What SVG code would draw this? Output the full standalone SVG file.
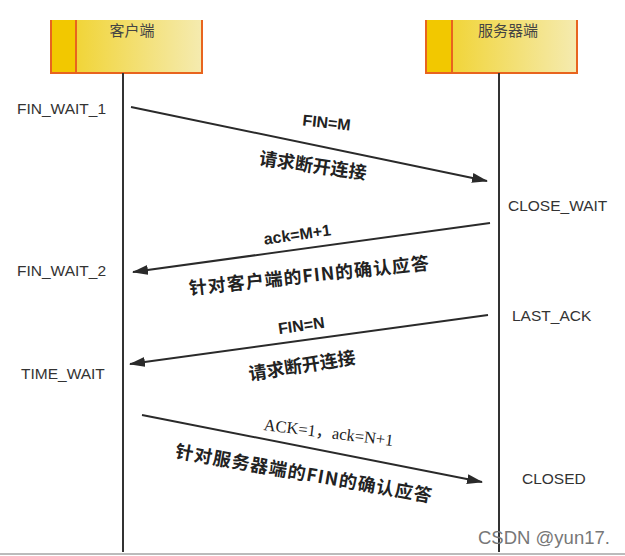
<svg xmlns="http://www.w3.org/2000/svg" width="625" height="556" viewBox="0 0 625 556">
<style>
.state{font-family:"Liberation Sans",Arial,sans-serif;font-size:15.5px;fill:#333}
.hdr{font-family:"Noto Sans CJK SC","Liberation Sans",sans-serif;font-size:15px;fill:#444}
.bl{font-family:"Liberation Sans",Arial,sans-serif;font-size:16px;font-weight:bold;fill:#222}
.cn{font-family:"Noto Sans CJK SC","Liberation Sans",sans-serif;font-size:18px;font-weight:bold;fill:#222}
.sf{font-family:"Liberation Serif","Noto Sans CJK SC",serif;font-size:16.5px;fill:#222}
.life{stroke:#333;stroke-width:2;fill:none}
.msg{stroke:#2a2a2a;stroke-width:2;fill:none}
.bord{stroke:#e8641e;stroke-width:2;fill:none}
</style>
<defs>
<linearGradient id="g" x1="0" y1="0" x2="1" y2="0">
<stop offset="0" stop-color="#f0d020"/>
<stop offset="1" stop-color="#f5ebb0"/>
</linearGradient>
<marker id="ah" viewBox="0 0 16 10" refX="15" refY="5" markerWidth="16" markerHeight="10" markerUnits="userSpaceOnUse" orient="auto">
<path d="M0,0 L16,5 L0,10 Z" fill="#2a2a2a"/>
</marker>
</defs>
<rect x="0" y="0" width="625" height="556" fill="#fff"/>
<line x1="0" y1="554" x2="625" y2="554" stroke="#bbb" stroke-width="2"/>
<g id="client">
<rect x="51" y="20" width="151" height="53" fill="url(#g)"/>
<rect x="51" y="20" width="25" height="53" fill="#f2c800"/>
<path class="bord" d="M51,20 V73 H202 V20 M76,20 V73"/>
<text class="hdr" x="132" y="36" text-anchor="middle">客户端</text>
<line class="life" x1="123" y1="73" x2="123" y2="552"/>
</g>
<g id="server">
<rect x="426" y="20" width="151" height="53" fill="url(#g)"/>
<rect x="426" y="20" width="26" height="53" fill="#f2c800"/>
<path class="bord" d="M426,20 V73 H577 V20 M452,20 V73"/>
<text class="hdr" x="508" y="36" text-anchor="middle">服务器端</text>
<line class="life" x1="499" y1="73" x2="499" y2="552"/>
</g>
<g id="states">
<text class="state" x="17" y="114">FIN_WAIT_1</text>
<text class="state" x="17" y="276">FIN_WAIT_2</text>
<text class="state" x="21" y="379">TIME_WAIT</text>
<text class="state" x="508" y="211">CLOSE_WAIT</text>
<text class="state" x="512" y="321">LAST_ACK</text>
<text class="state" x="522" y="484">CLOSED</text>
</g>
<g id="connectors">
<line class="msg" x1="131" y1="107" x2="487" y2="181" marker-end="url(#ah)"/>
<line class="msg" x1="490" y1="223" x2="133" y2="272" marker-end="url(#ah)"/>
<line class="msg" x1="488" y1="315" x2="130" y2="364" marker-end="url(#ah)"/>
<line class="msg" x1="142" y1="415" x2="482" y2="482" marker-end="url(#ah)"/>
</g>
<g id="labels">
<text class="bl" transform="translate(326,128) rotate(6)" text-anchor="middle">FIN=M</text>
<text class="cn" transform="translate(312,172) rotate(8)" text-anchor="middle">请求断开连接</text>
<text class="bl" transform="translate(298,240) rotate(-8)" text-anchor="middle">ack=M+1</text>
<text class="cn" transform="translate(310,282) rotate(-6)" text-anchor="middle" letter-spacing="1">针对客户端的FIN的确认应答</text>
<text class="bl" transform="translate(302,331) rotate(-8)" text-anchor="middle">FIN=N</text>
<text class="cn" transform="translate(303,372) rotate(-9)" text-anchor="middle">请求断开连接</text>
<text class="sf" transform="translate(328,438) rotate(7)" text-anchor="middle">ACK=1，ack=N+1</text>
<text class="cn" transform="translate(303,480) rotate(10)" text-anchor="middle" letter-spacing="1">针对服务器端的FIN的确认应答</text>
</g>
<text x="478" y="544" font-family="Liberation Sans,Arial,sans-serif" font-size="18.5" fill="#777">CSDN @yun17.</text>
</svg>
